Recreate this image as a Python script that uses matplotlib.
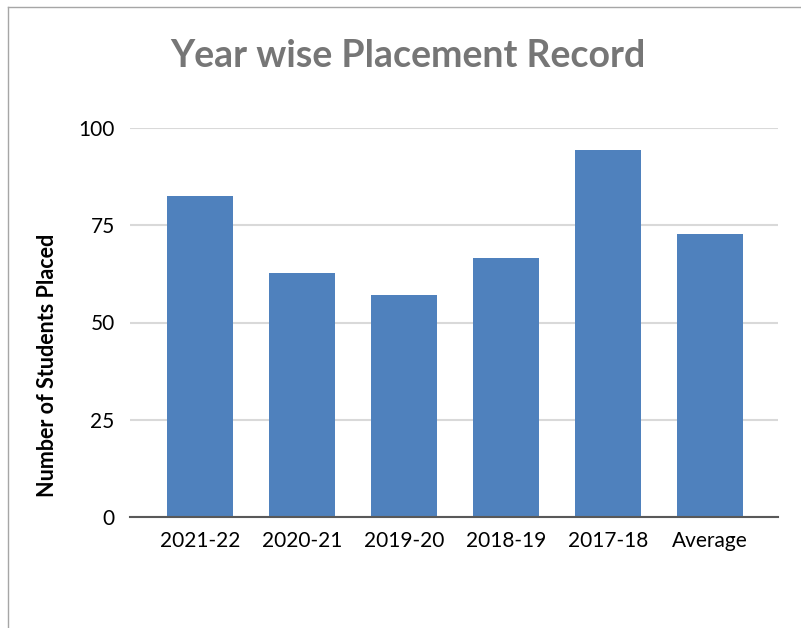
import matplotlib
matplotlib.use("Agg")
import matplotlib.pyplot as plt
from matplotlib.lines import Line2D

# ---------------- data ----------------
years = ['2021-22', '2020-21', '2019-20', '2018-19', '2017-18', 'Average']
placed = [82.5, 62.7, 57.0, 66.7, 94.4, 72.8]
y_ticks = [0, 25, 50, 75, 100]

bar_color = '#4f81bd'
grid_color = '#d9d9d9'
font = 'Lato'

fig = plt.figure(figsize=(8.01, 6.28), dpi=100)
ax = fig.add_axes([130 / 801, 1 - 517 / 628, 648 / 801, 389 / 628])

x = range(len(years))
ax.bar(x, placed, width=0.65, color=bar_color, zorder=3)

ax.set_ylim(0, 100)
ax.set_xlim(-0.686, 5.667)
ax.set_yticks(y_ticks)
ax.set_xticks(list(x))
ax.set_xticklabels(years, family=font, fontsize=15)
ax.set_yticklabels([str(t) for t in y_ticks], family=font, fontsize=15)
ax.tick_params(length=0, pad=11)
ax.tick_params(axis='x', pad=10)

ax.grid(axis='y', color=grid_color, linewidth=1.5, zorder=0)
for s in ['top', 'right', 'left']:
    ax.spines[s].set_visible(False)
ax.spines['bottom'].set_color('#595959')
ax.spines['bottom'].set_linewidth(1.5)
ax.spines['bottom'].set_zorder(4)

ax.set_ylabel('Number of Students Placed', fontsize=15.5, fontweight='bold',
              family=font, labelpad=0)
ax.yaxis.set_label_coords(-0.111, 0.39)

fig.text(408 / 801, 1 - 56 / 628, 'Year wise Placement Record', ha='center', va='center',
         fontsize=27, fontweight='bold', color='#767676', family=font)

# outer chart frame (left and top edges only visible)
fig.add_artist(Line2D([8 / 801, 8 / 801], [0, 1 - 7 / 628], color='#a6a6a6', linewidth=1))
fig.add_artist(Line2D([8 / 801, 1], [1 - 7 / 628, 1 - 7 / 628], color='#a6a6a6', linewidth=1))

fig.savefig('out.png', dpi=100)
